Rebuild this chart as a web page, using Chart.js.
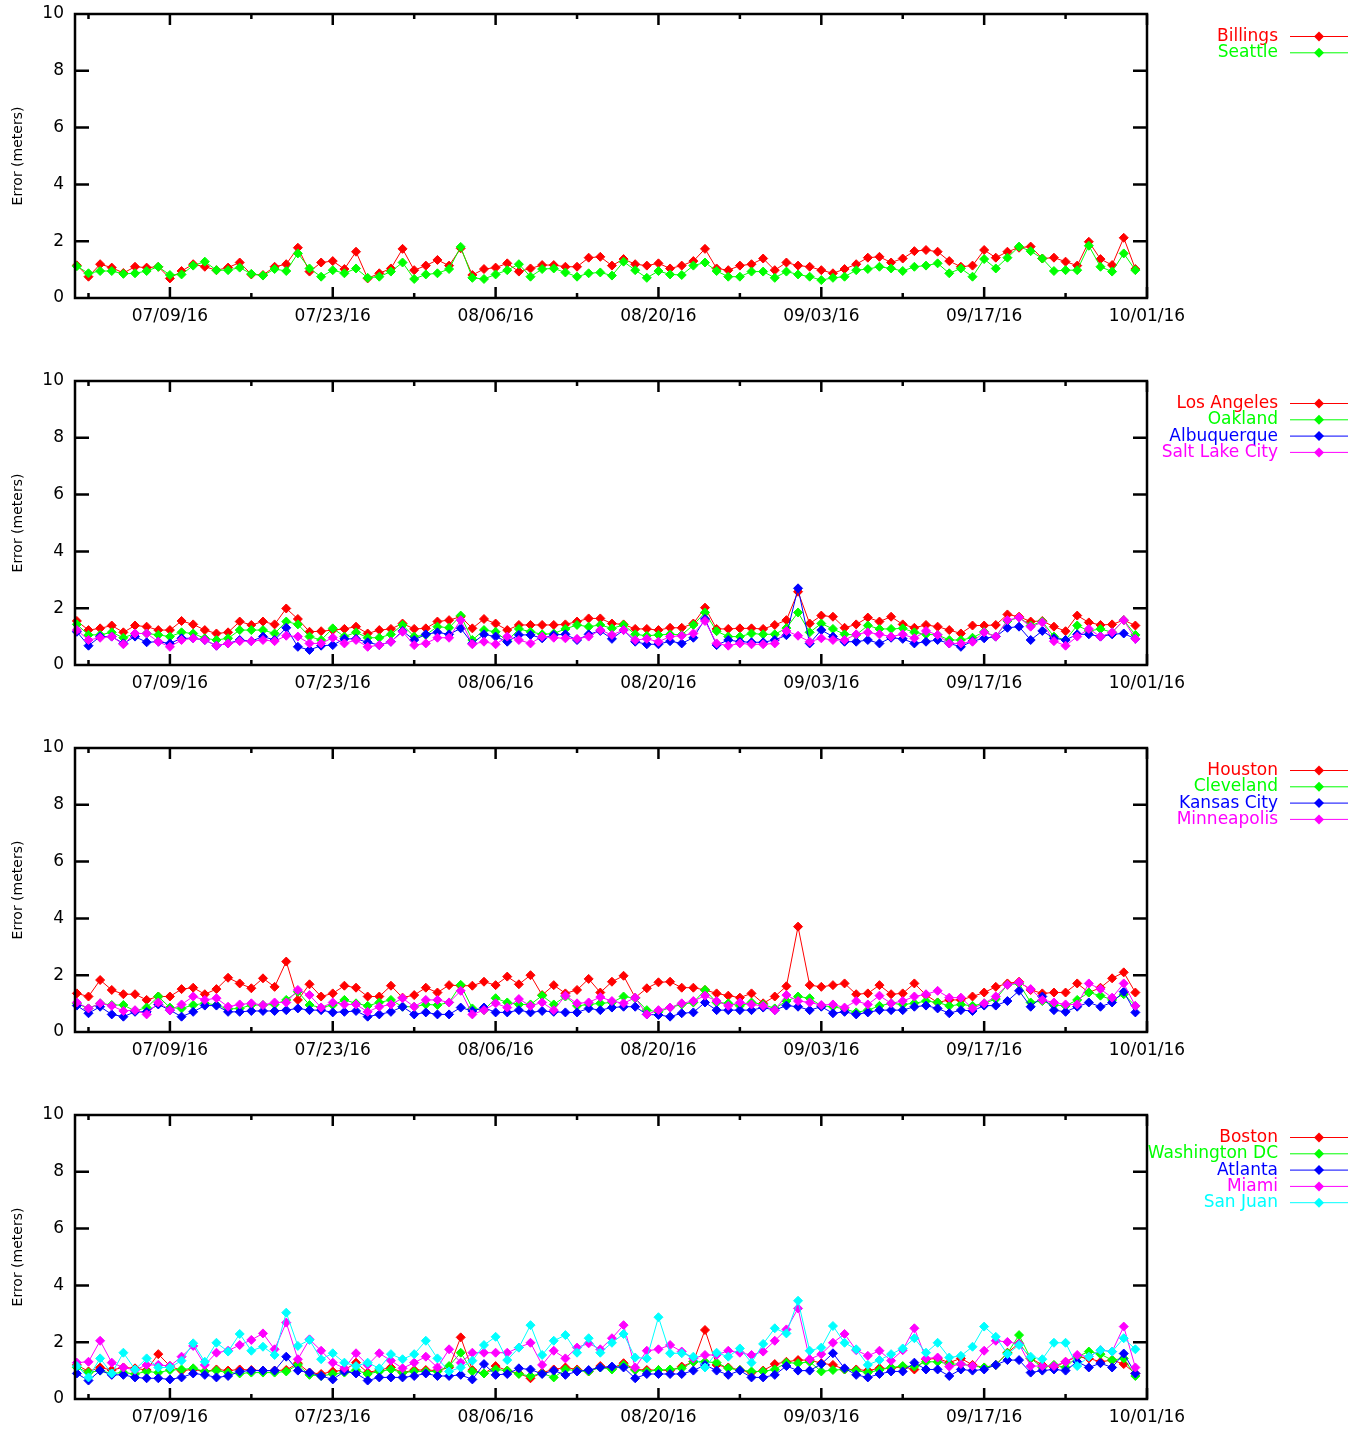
<!DOCTYPE html>
<html><head><meta charset="utf-8">
<script src="https://cdn.jsdelivr.net/npm/chart.js@4.4.0/dist/chart.umd.min.js"></script>
<style>
html,body{margin:0;padding:0;background:#fff;width:1361px;height:1430px;overflow:hidden;position:relative;}
.panel{position:absolute;left:0;width:1361px;height:367px;}
canvas{display:block;}
</style></head><body>
<div class="panel" style="top:0px"><canvas id="c0" width="1361" height="367"></canvas></div>
<div class="panel" style="top:367px"><canvas id="c1" width="1361" height="367"></canvas></div>
<div class="panel" style="top:734px"><canvas id="c2" width="1361" height="367"></canvas></div>
<div class="panel" style="top:1101px"><canvas id="c3" width="1361" height="367"></canvas></div>
<script>
// Day index 0 = 07/01/16 ... 91 = 09/30/16
const tickDays = [8, 22, 36, 50, 64, 78, 92];
const tickLabels = ['07/09/16', '07/23/16', '08/06/16', '08/20/16', '09/03/16', '09/17/16', '10/01/16'];
const minorDays = [1, 15, 29, 43, 57, 71, 85];
const yTicks = [2, 4, 6, 8];

const billings = [1.15,0.75,1.19,1.07,0.88,1.10,1.07,1.10,0.69,0.95,1.19,1.10,0.98,1.07,1.25,0.83,0.81,1.10,1.19,1.77,0.93,1.25,1.30,1.02,1.63,0.69,0.87,1.04,1.73,0.98,1.14,1.34,1.14,1.75,0.81,1.02,1.07,1.22,0.93,1.04,1.16,1.16,1.10,1.10,1.42,1.45,1.14,1.37,1.19,1.14,1.22,1.04,1.14,1.30,1.73,1.04,0.98,1.14,1.19,1.39,0.98,1.25,1.14,1.10,0.98,0.87,1.02,1.19,1.42,1.45,1.25,1.39,1.65,1.69,1.63,1.30,1.10,1.14,1.69,1.42,1.63,1.77,1.81,1.39,1.42,1.28,1.14,1.98,1.37,1.16,2.12,1.02];
const seattle = [1.12,0.87,0.95,0.95,0.85,0.87,0.95,1.10,0.81,0.83,1.14,1.28,0.98,0.98,1.07,0.85,0.79,1.02,0.95,1.57,1.04,0.75,0.98,0.87,1.04,0.71,0.75,0.93,1.25,0.67,0.83,0.87,1.02,1.80,0.71,0.67,0.83,0.98,1.19,0.75,1.02,1.04,0.90,0.75,0.87,0.90,0.79,1.28,0.98,0.71,0.95,0.83,0.81,1.14,1.25,0.95,0.75,0.75,0.93,0.93,0.71,0.93,0.83,0.75,0.63,0.71,0.75,0.98,1.02,1.10,1.04,0.95,1.10,1.14,1.22,0.87,1.04,0.75,1.37,1.04,1.42,1.81,1.65,1.39,0.95,0.98,0.98,1.84,1.10,0.93,1.57,0.98];

const losAngeles = [1.55,1.23,1.29,1.39,1.15,1.39,1.35,1.23,1.23,1.55,1.43,1.23,1.11,1.15,1.53,1.41,1.53,1.43,1.99,1.62,1.17,1.19,1.23,1.27,1.35,1.11,1.23,1.27,1.46,1.27,1.29,1.53,1.58,1.70,1.29,1.62,1.46,1.23,1.41,1.41,1.41,1.41,1.43,1.53,1.64,1.64,1.46,1.43,1.27,1.27,1.23,1.31,1.31,1.46,2.02,1.27,1.27,1.29,1.29,1.27,1.41,1.58,2.58,1.46,1.74,1.70,1.31,1.43,1.67,1.53,1.70,1.43,1.31,1.41,1.35,1.23,1.11,1.39,1.39,1.41,1.78,1.70,1.53,1.55,1.35,1.19,1.74,1.50,1.41,1.43,1.58,1.39];
const oakland = [1.43,1.06,1.06,1.15,0.96,1.11,1.11,1.06,1.00,1.15,1.11,0.94,0.88,0.94,1.23,1.23,1.23,1.11,1.53,1.43,1.00,0.88,1.29,1.00,1.15,0.96,0.96,1.08,1.41,1.00,1.06,1.35,1.31,1.74,0.88,1.23,1.17,0.84,1.27,1.17,1.08,1.11,1.27,1.41,1.35,1.41,1.29,1.41,1.08,1.03,1.06,1.08,1.06,1.41,1.85,1.19,1.00,1.00,1.11,1.08,1.08,1.30,1.85,1.15,1.46,1.27,1.08,1.06,1.39,1.27,1.27,1.29,1.15,1.08,1.06,0.88,0.88,0.96,1.17,1.00,1.55,1.67,1.39,1.53,1.00,0.88,1.39,1.20,1.27,1.15,1.58,1.06];
const albuquerque = [1.17,0.68,1.00,1.00,0.76,1.00,0.80,0.82,0.76,0.94,0.94,0.88,0.68,0.76,0.88,0.84,1.00,0.88,1.31,0.64,0.53,0.68,0.70,0.92,0.92,0.80,0.70,0.82,1.20,0.88,1.08,1.15,1.08,1.29,0.76,1.08,1.00,0.82,1.06,1.06,0.94,1.06,1.08,0.88,1.08,1.20,0.92,1.23,0.82,0.73,0.73,0.84,0.76,0.96,1.62,0.70,0.88,0.82,0.80,0.80,0.88,1.05,2.70,0.76,1.23,1.00,0.82,0.82,0.88,0.76,0.96,0.92,0.76,0.82,0.88,0.76,0.64,0.84,0.94,1.00,1.31,1.35,0.88,1.20,0.94,0.88,1.08,1.08,1.00,1.08,1.11,0.92];
const saltLakeCity = [1.23,0.88,0.96,1.00,0.73,1.11,1.11,0.82,0.64,0.88,0.94,0.88,0.68,0.76,0.84,0.84,0.88,0.84,1.03,1.00,0.76,0.76,0.96,0.76,0.88,0.64,0.70,0.82,1.17,0.70,0.76,0.96,0.96,1.58,0.73,0.82,0.73,1.00,0.88,0.76,1.00,0.96,0.94,0.92,1.00,1.23,1.06,1.23,0.88,0.92,0.82,1.00,1.03,1.11,1.55,0.76,0.68,0.76,0.73,0.73,0.76,1.20,1.03,0.82,0.94,0.88,0.88,1.08,1.15,1.08,1.00,1.08,0.94,1.20,1.06,0.76,0.76,0.82,1.15,1.00,1.58,1.67,1.35,1.50,0.84,0.68,1.00,1.27,1.00,1.15,1.58,0.92];

const houston = [1.36,1.25,1.83,1.48,1.33,1.33,1.13,1.25,1.25,1.51,1.56,1.33,1.51,1.91,1.71,1.54,1.89,1.59,2.48,1.13,1.68,1.25,1.36,1.63,1.56,1.25,1.25,1.63,1.21,1.30,1.56,1.39,1.65,1.63,1.63,1.77,1.65,1.95,1.68,2.00,1.30,1.65,1.36,1.48,1.87,1.39,1.77,1.98,1.21,1.54,1.75,1.77,1.56,1.56,1.48,1.36,1.28,1.21,1.36,1.01,1.25,1.61,3.71,1.65,1.59,1.65,1.71,1.33,1.36,1.65,1.33,1.36,1.71,1.30,1.04,1.13,1.13,1.25,1.39,1.59,1.71,1.77,1.48,1.36,1.39,1.39,1.71,1.39,1.56,1.89,2.10,1.39];
const cleveland = [1.00,0.83,1.01,0.95,0.95,0.74,0.86,1.25,0.86,0.83,0.95,1.01,0.95,0.81,0.83,0.95,0.95,0.97,1.13,1.42,0.95,0.86,0.95,1.13,1.01,0.92,1.04,1.13,0.89,0.89,0.97,0.95,1.04,1.66,0.83,0.77,1.19,1.04,0.97,0.97,1.28,0.97,1.25,0.92,0.97,1.01,1.04,1.25,1.19,0.77,0.71,0.86,0.97,1.04,1.48,1.04,1.01,0.92,1.04,0.97,0.83,1.09,1.25,1.19,0.92,0.89,0.81,0.69,0.77,0.92,1.01,0.97,1.01,1.09,1.04,0.92,0.97,0.92,1.01,1.16,1.66,1.71,1.04,1.09,0.95,0.92,1.13,1.39,1.28,1.13,1.33,0.92];
const kansasCity = [0.93,0.66,0.89,0.62,0.54,0.71,0.71,0.97,0.77,0.54,0.71,0.93,0.93,0.71,0.71,0.74,0.74,0.74,0.77,0.83,0.77,0.77,0.69,0.71,0.74,0.54,0.62,0.71,0.89,0.62,0.69,0.62,0.62,0.86,0.74,0.86,0.69,0.69,0.77,0.69,0.74,0.71,0.69,0.69,0.83,0.77,0.86,0.89,0.89,0.62,0.60,0.54,0.66,0.69,1.04,0.77,0.77,0.77,0.77,0.86,0.77,0.93,0.89,0.77,0.89,0.66,0.71,0.62,0.69,0.77,0.77,0.77,0.89,0.93,0.83,0.66,0.77,0.74,0.93,0.93,1.09,1.45,0.89,1.25,0.77,0.71,0.89,1.04,0.89,1.04,1.42,0.69];
const minneapolis = [1.04,0.83,1.01,0.92,0.74,0.77,0.62,1.04,0.77,0.97,1.25,1.13,1.19,0.89,0.97,1.01,0.95,1.04,1.04,1.48,1.30,0.86,1.04,0.97,0.97,0.71,0.89,0.97,1.19,0.89,1.13,1.13,1.04,1.45,0.62,0.77,1.01,0.86,1.16,0.92,1.04,0.77,1.28,1.01,1.04,1.23,1.09,1.01,1.21,0.62,0.77,0.86,1.01,1.09,1.28,1.09,0.92,1.04,0.97,0.92,0.77,1.30,1.09,1.04,0.95,0.97,0.86,1.09,0.97,1.28,1.01,1.09,1.25,1.33,1.45,1.21,1.21,0.83,1.01,1.25,1.66,1.75,1.51,1.13,1.04,0.97,0.97,1.71,1.51,1.21,1.71,0.92];

const boston = [1.20,0.97,1.11,1.02,1.11,1.08,1.02,1.58,1.16,1.00,1.04,0.97,1.04,1.00,1.04,1.02,1.00,1.00,1.02,1.26,0.93,0.88,0.97,1.02,1.28,0.93,1.02,1.11,0.93,1.02,1.02,1.00,1.11,2.17,1.02,0.90,1.16,1.00,0.90,0.73,0.93,1.04,1.11,1.04,0.97,1.16,1.08,1.26,1.04,1.02,1.02,1.00,1.14,1.31,2.43,1.20,1.11,1.02,0.93,1.00,1.23,1.31,1.37,1.37,1.26,1.20,1.04,1.04,1.00,1.08,1.08,1.14,1.04,1.40,1.43,1.28,1.43,1.20,1.11,1.20,1.63,1.96,1.43,1.20,1.11,1.31,1.49,1.43,1.31,1.37,1.23,0.90];
const washingtonDC = [1.11,0.93,1.00,0.90,0.93,0.88,0.97,0.93,1.02,1.04,1.08,0.97,1.00,0.93,0.90,0.93,0.93,0.93,0.97,1.20,0.85,0.81,0.88,0.93,1.02,0.88,0.97,1.04,0.93,0.97,0.97,0.97,1.16,1.63,0.97,0.90,1.04,1.00,0.88,0.81,0.90,0.76,1.04,1.00,0.97,1.11,1.04,1.20,1.02,0.97,1.02,1.04,1.08,1.31,1.31,1.28,1.08,1.02,0.97,0.97,1.04,1.28,1.26,1.31,0.97,1.02,1.04,1.00,0.93,1.02,1.11,1.16,1.14,1.31,1.31,1.23,1.23,1.16,1.11,1.20,1.61,2.25,1.43,1.11,1.20,1.11,1.49,1.67,1.58,1.37,1.43,0.81];
const atlanta = [0.90,0.65,1.00,0.85,0.85,0.76,0.73,0.73,0.69,0.76,0.90,0.85,0.76,0.81,0.97,1.00,1.00,1.00,1.49,1.00,0.93,0.81,0.69,0.97,0.90,0.65,0.76,0.76,0.76,0.81,0.90,0.81,0.81,0.85,0.69,1.23,0.85,0.88,1.08,1.04,0.88,1.00,0.85,0.97,1.02,1.11,1.14,1.11,0.73,0.88,0.88,0.88,0.88,1.00,1.20,1.00,0.85,1.00,0.76,0.76,0.85,1.16,1.00,1.00,1.23,1.61,1.08,0.85,0.76,0.88,0.97,0.97,1.28,1.04,1.04,0.81,1.04,1.00,1.04,1.20,1.37,1.37,0.93,1.00,1.04,1.00,1.31,1.11,1.26,1.11,1.60,0.90];
const miami = [1.28,1.31,2.05,1.28,1.11,1.02,1.20,1.20,1.16,1.49,1.87,1.20,1.63,1.70,1.90,2.08,2.31,1.75,2.69,1.40,2.10,1.70,1.28,1.08,1.61,1.20,1.61,1.35,1.08,1.28,1.49,1.11,1.75,1.28,1.63,1.63,1.63,1.63,1.81,1.98,1.20,1.70,1.43,1.81,1.96,1.75,2.14,2.60,1.11,1.70,1.75,1.90,1.67,1.43,1.55,1.55,1.70,1.63,1.55,1.67,2.05,2.45,3.19,1.40,1.58,1.98,2.29,1.72,1.52,1.70,1.35,1.72,2.49,1.43,1.46,1.14,1.23,1.16,1.70,2.05,2.01,1.94,1.16,1.16,1.16,1.31,1.55,1.49,1.72,1.67,2.55,1.11];
const sanJuan = [1.16,0.76,1.43,0.90,1.63,1.04,1.43,1.11,1.11,1.35,1.96,1.31,1.98,1.67,2.29,1.70,1.84,1.55,3.04,1.87,2.08,1.40,1.61,1.28,1.16,1.28,1.08,1.58,1.40,1.58,2.05,1.43,0.97,1.11,1.35,1.90,2.19,1.37,1.81,2.60,1.55,2.05,2.25,1.63,2.14,1.63,1.98,2.29,1.46,1.43,2.88,1.61,1.61,1.49,1.11,1.63,1.49,1.78,1.28,1.94,2.49,2.31,3.46,1.70,1.81,2.57,1.98,1.75,1.20,1.37,1.58,1.78,2.14,1.63,1.98,1.46,1.52,1.84,2.55,2.19,1.58,1.90,1.49,1.40,1.98,1.98,1.16,1.49,1.72,1.67,2.14,1.75];

const panels = [
  { id: 'c0', names: ['Billings', 'Seattle'], colors: ['#ff0000', '#00ff00'], series: [billings, seattle] },
  { id: 'c1', names: ['Los Angeles', 'Oakland', 'Albuquerque', 'Salt Lake City'], colors: ['#ff0000', '#00ff00', '#0000ff', '#ff00ff'], series: [losAngeles, oakland, albuquerque, saltLakeCity] },
  { id: 'c2', names: ['Houston', 'Cleveland', 'Kansas City', 'Minneapolis'], colors: ['#ff0000', '#00ff00', '#0000ff', '#ff00ff'], series: [houston, cleveland, kansasCity, minneapolis] },
  { id: 'c3', names: ['Boston', 'Washington DC', 'Atlanta', 'Miami', 'San Juan'], colors: ['#ff0000', '#00ff00', '#0000ff', '#ff00ff', '#00ffff'], series: [boston, washingtonDC, atlanta, miami, sanJuan] }
];

const FONT = "'DejaVu Sans', 'Liberation Sans', sans-serif";

function diamond(ctx, x, y, r, color) {
  ctx.beginPath();
  ctx.moveTo(x, y - r); ctx.lineTo(x + r, y); ctx.lineTo(x, y + r); ctx.lineTo(x - r, y); ctx.closePath();
  ctx.fillStyle = color; ctx.fill();
}

const framePlugin = {
  id: 'frame',
  afterDatasetsDraw(chart) {
    const ctx = chart.ctx;
    const { left, top, right, bottom } = chart.chartArea;
    const xs = chart.scales.x, ys = chart.scales.y;
    ctx.save();
    ctx.strokeStyle = '#000';
    ctx.lineWidth = 2.5;
    ctx.lineCap = 'butt';
    ctx.beginPath();
    yTicks.forEach(v => {
      const py = ys.getPixelForValue(v);
      ctx.moveTo(left, py); ctx.lineTo(left + 14, py);
      ctx.moveTo(right, py); ctx.lineTo(right - 14, py);
    });
    tickDays.forEach(v => {
      const px = xs.getPixelForValue(v);
      ctx.moveTo(px, bottom); ctx.lineTo(px, bottom - 11);
      ctx.moveTo(px, top); ctx.lineTo(px, top + 11);
    });
    minorDays.forEach(v => {
      const px = xs.getPixelForValue(v);
      ctx.moveTo(px, bottom); ctx.lineTo(px, bottom - 5);
      ctx.moveTo(px, top); ctx.lineTo(px, top + 5);
    });
    ctx.stroke();
    ctx.strokeRect(left, top, right - left, bottom - top);

    // legend
    ctx.font = '17px ' + FONT;
    ctx.textAlign = 'right';
    ctx.textBaseline = 'middle';
    chart.data.datasets.forEach((ds, k) => {
      const yy = top + 22.5 + 16.3 * k;
      ctx.fillStyle = ds.borderColor;
      ctx.fillText(ds.label, 1278, yy);
      ctx.strokeStyle = ds.borderColor;
      ctx.lineWidth = 1;
      ctx.beginPath(); ctx.moveTo(1290, yy); ctx.lineTo(1348, yy); ctx.stroke();
      diamond(ctx, 1319, yy, 5, ds.borderColor);
    });
    ctx.restore();
  }
};

panels.forEach(p => {
  const n = p.series.length;
  const datasets = p.series.map((vals, k) => ({
    label: p.names[k],
    data: vals.map((v, i) => ({ x: i, y: v })),
    borderColor: p.colors[k],
    backgroundColor: p.colors[k],
    pointBorderColor: p.colors[k],
    pointBackgroundColor: p.colors[k],
    borderWidth: 1,
    pointStyle: 'rectRot',
    pointRadius: 4.5,
    pointBorderWidth: 1,
    tension: 0,
    clip: false,
    order: n - k
  }));
  new Chart(document.getElementById(p.id), {
    type: 'line',
    data: { datasets },
    options: {
      responsive: false,
      animation: false,
      events: [],
      layout: { padding: { top: 14, right: 214, bottom: 0, left: 0 } },
      plugins: { legend: { display: false }, tooltip: { enabled: false } },
      scales: {
        x: {
          type: 'linear', min: -0.16, max: 92,
          afterBuildTicks: s => { s.ticks = tickDays.map(v => ({ value: v })); },
          afterFit: s => { s.height = 69; s.paddingLeft = 0; s.paddingRight = 0; },
          ticks: {
            autoSkip: false, maxRotation: 0, minRotation: 0,
            callback: (v, i) => tickLabels[i],
            font: { family: FONT, size: 17 }, color: '#000', padding: 8
          },
          grid: { display: false, drawTicks: false },
          border: { display: false }
        },
        y: {
          min: 0, max: 10,
          afterFit: s => { s.width = 75; s.paddingTop = 0; s.paddingBottom = 0; },
          ticks: { stepSize: 2, font: { family: FONT, size: 17 }, color: '#000', padding: 11 },
          grid: { display: false, drawTicks: false },
          border: { display: false },
          title: { display: true, text: 'Error (meters)', font: { family: FONT, size: 14 }, color: '#000', padding: { top: 10, bottom: 0 } }
        }
      }
    },
    plugins: [framePlugin]
  });
});
</script>
</body></html>
